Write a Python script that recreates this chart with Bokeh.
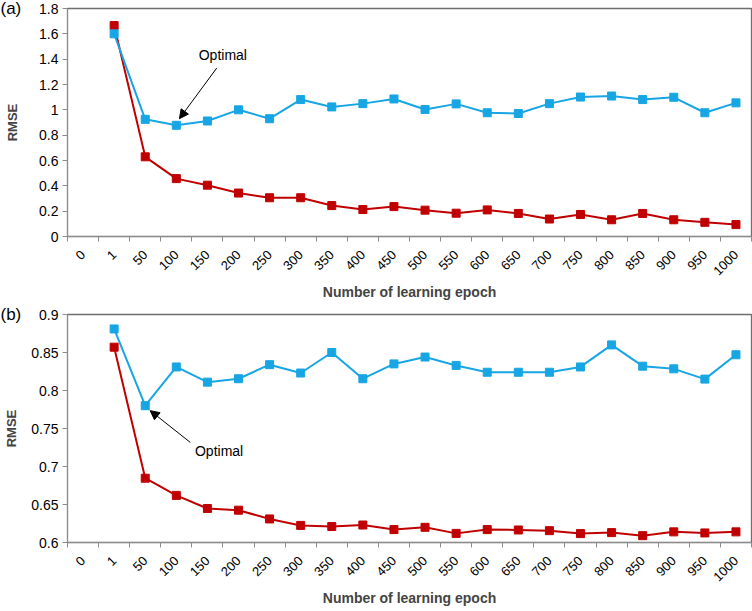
import math
from bokeh.plotting import figure
from bokeh.layouts import column
from bokeh.models import (FixedTicker, CustomJSTickFormatter, Label, Arrow,
                          NormalHead, Range1d, NumeralTickFormatter)
from bokeh.embed import file_html
from bokeh.resources import INLINE

# ---- data -------------------------------------------------------------
epoch_labels = ["0", "1", "50", "100", "150", "200", "250", "300", "350", "400",
                "450", "500", "550", "600", "650", "700", "750", "800", "850",
                "900", "950", "1000"]
epochs = epoch_labels[1:]

a_blue = [1.600, 0.925, 0.878, 0.912, 1.000, 0.930, 1.081, 1.023, 1.049, 1.086,
          1.003, 1.047, 0.977, 0.971, 1.049, 1.101, 1.109, 1.081, 1.099, 0.977, 1.055]
a_red = [1.665, 0.629, 0.457, 0.405, 0.343, 0.306, 0.306, 0.244, 0.213, 0.236,
         0.208, 0.184, 0.210, 0.182, 0.138, 0.174, 0.132, 0.182, 0.132, 0.112, 0.094]

b_blue = [0.881, 0.780, 0.831, 0.811, 0.8155, 0.834, 0.823, 0.850, 0.8155, 0.835,
          0.844, 0.833, 0.824, 0.824, 0.824, 0.831, 0.860, 0.832, 0.8285, 0.815, 0.847]
b_red = [0.857, 0.6846, 0.662, 0.6447, 0.6425, 0.631, 0.6225, 0.621, 0.623, 0.617,
         0.620, 0.612, 0.617, 0.6165, 0.6156, 0.6117, 0.613, 0.609, 0.614, 0.6126, 0.614]

a_yticks = [0, 0.2, 0.4, 0.6, 0.8, 1.0, 1.2, 1.4, 1.6, 1.8]
b_yticks = [0.6, 0.65, 0.7, 0.75, 0.8, 0.85, 0.9]

x_title = "Number of learning epoch"
y_title = "RMSE"
note_text = "Optimal"

BLUE = "#17A6E3"
RED = "#C00000"
FONT = "Liberation Sans"
LEFT = 67


def make_panel(blue, red, yticks, yfmt, tag, opt_text, opt_arrow,
               frame_h, border_top, ystandoff, tag_standoff):
    n = len(epoch_labels)
    xs = [epoch_labels.index(e) + 0.5 for e in epochs]
    p = figure(frame_width=684, frame_height=frame_h, output_backend="svg",
               toolbar_location=None, x_range=Range1d(0, n),
               y_range=Range1d(yticks[0], yticks[-1]),
               min_border_left=LEFT, min_border_right=1,
               min_border_top=border_top, min_border_bottom=0,
               title=tag)
    p.grid.visible = False
    p.outline_line_color = "#6e6e6e"
    p.outline_line_width = 1.3
    p.background_fill_color = "white"
    p.border_fill_color = "white"

    # panel tag "(a)" / "(b)" at the top-left corner
    p.title.align = "left"
    p.title.offset = -LEFT
    p.title.vertical_align = "middle"
    p.title.standoff = tag_standoff
    p.title.text_font = FONT
    p.title.text_font_size = "17px"
    p.title.text_font_style = "normal"
    p.title.text_color = "black"

    # x axis: labels at category centres, tick marks at category boundaries
    xa = p.xaxis[0]
    xa.ticker = FixedTicker(ticks=[i + 0.5 for i in range(n)],
                            minor_ticks=list(range(n + 1)))
    xa.formatter = CustomJSTickFormatter(
        args=dict(labels=epoch_labels),
        code="const i = Math.floor(tick); return (i >= 0 && i < labels.length) ? labels[i] : '';")
    xa.major_tick_out = 0
    xa.major_tick_in = 0
    xa.minor_tick_out = 5
    xa.minor_tick_in = 0
    xa.minor_tick_line_color = "#8c8c8c"
    xa.axis_line_color = "#8c8c8c"
    xa.major_label_orientation = math.pi / 4
    xa.major_label_standoff = 11
    xa.major_label_text_font = FONT
    xa.major_label_text_font_size = "13px"
    xa.major_label_text_color = "black"
    xa.axis_label = x_title
    xa.axis_label_text_font = FONT
    xa.axis_label_text_font_style = "bold"
    xa.axis_label_text_font_size = "14px"
    xa.axis_label_standoff = 2

    ya = p.yaxis[0]
    ya.ticker = FixedTicker(ticks=yticks)
    ya.formatter = NumeralTickFormatter(format=yfmt)
    ya.major_tick_out = 5
    ya.major_tick_in = 0
    ya.minor_tick_out = 0
    ya.major_tick_line_color = "#8c8c8c"
    ya.axis_line_color = "#8c8c8c"
    ya.major_label_standoff = 4
    ya.major_label_text_font = FONT
    ya.major_label_text_font_size = "14px"
    ya.major_label_text_color = "black"
    ya.axis_label = y_title
    ya.axis_label_text_font = FONT
    ya.axis_label_text_font_style = "bold"
    ya.axis_label_text_font_size = "13px"
    ya.axis_label_standoff = ystandoff

    p.line(xs, red, line_color=RED, line_width=2)
    p.scatter(xs, red, marker="square", size=8, fill_color=RED, line_color=RED)
    p.line(xs, blue, line_color=BLUE, line_width=2)
    p.scatter(xs, blue, marker="square", size=8, fill_color=BLUE, line_color=BLUE)

    # annotations
    tx, ty = opt_text
    p.add_layout(Label(x=tx, y=ty, text=note_text, text_font=FONT,
                       text_font_size="14px", text_baseline="middle",
                       text_align="left", text_color="black"))
    x0, y0, x1, y1 = opt_arrow
    p.add_layout(Arrow(x_start=x0, y_start=y0, x_end=x1, y_end=y1,
                       line_color="black", line_width=1,
                       end=NormalHead(size=9, fill_color="black",
                                      line_color="black")))
    return p


pa = make_panel(a_blue, a_red, a_yticks, "0.[0]", "(a)",
                opt_text=(4.22, 1.43),
                opt_arrow=(4.8, 1.33, 3.6, 0.93),
                frame_h=228, border_top=8, ystandoff=16, tag_standoff=-36)
pb = make_panel(b_blue, b_red, b_yticks, "0.[00]", "(b)",
                opt_text=(4.1, 0.72),
                opt_arrow=(3.95, 0.7317, 2.66, 0.7735),
                frame_h=228, border_top=11, ystandoff=9, tag_standoff=-32)

layout = column(pa, pb, spacing=0)
open("out.html", "w").write(file_html(layout, INLINE))
